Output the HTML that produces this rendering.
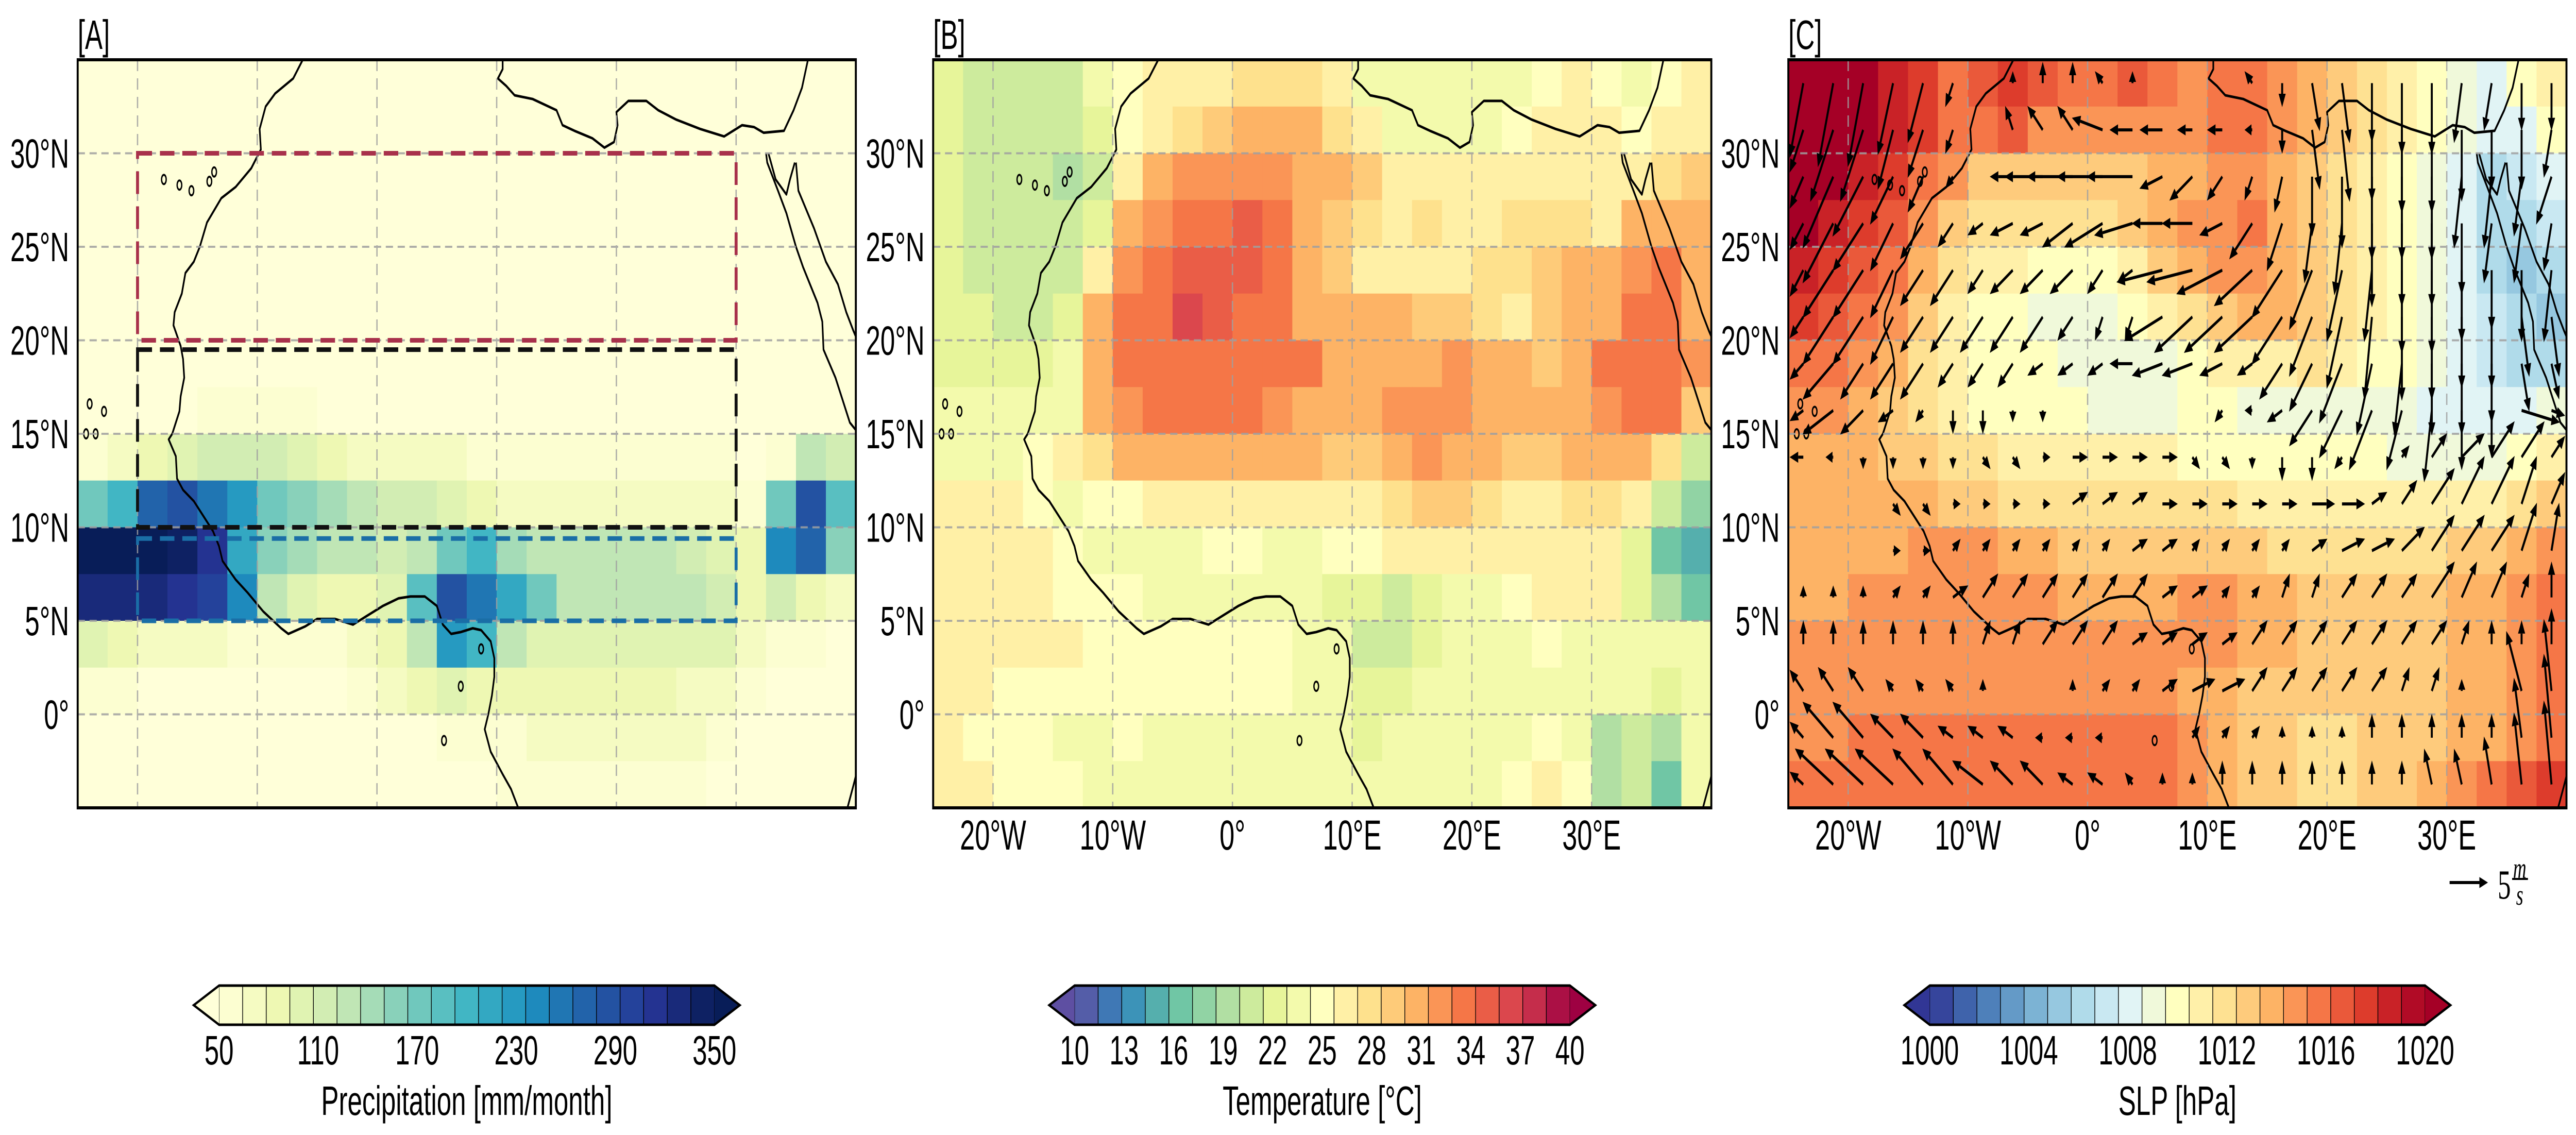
<!DOCTYPE html>
<html><head><meta charset="utf-8"><title>West Africa climatology maps</title>
<style>
html,body{margin:0;padding:0;background:#fff;width:100%;height:100%;overflow:hidden;}
svg{display:block;font-family:"Liberation Sans",sans-serif;position:absolute;left:0;top:0;width:100vw;height:100vh;}
</style></head>
<body>
<svg id="fig" xmlns="http://www.w3.org/2000/svg" viewBox="0 0 7826 2203" preserveAspectRatio="none" overflow="hidden">
<rect x="0" y="0" width="7826" height="2203" fill="#fff"/>
</svg>
<script>
// ---------- data ----------
const lonCells=[-25,-22.5,-20,-17.5,-15,-12.5,-10,-7.5,-5,-2.5,0,2.5,5,7.5,10,12.5,15,17.5,20,22.5,25,27.5,30,32.5,35,37.5];
const latCells=[35,32.5,30,27.5,25,22.5,20,17.5,15,12.5,10,7.5,5,2.5,0,-2.5];
const lonTicks=[-20,-10,0,10,20,30];
const lonTickLabels=["20°W","10°W","0°","10°E","20°E","30°E"];
const latTicks=[30,25,20,15,10,5,0];
const latTickLabels=["30°N","25°N","20°N","15°N","10°N","5°N","0°"];

const z30=[30,30,30,30,30,30,30,30,30,30,30,30,30,30,30,30,30,30,30,30,30,30,30,30,30,30];
const precip=[
z30,z30,z30,z30,z30,z30,z30,
[30,30,30,30,57,57,57,57,30,30,30,30,30,30,30,30,30,30,30,30,30,30,30,30,30,30],
[57,72,86,100,115,115,115,100,86,72,72,72,72,57,57,57,57,57,57,57,57,57,30,57,129,115],
[172,200,272,286,258,229,172,157,143,129,115,115,100,86,72,72,72,72,72,72,72,72,57,172,286,186],
[370,370,370,343,315,215,157,143,129,129,115,129,172,200,143,129,129,129,129,129,115,100,86,243,272,157],
[329,329,329,315,300,243,129,100,86,86,100,186,286,258,215,172,129,129,129,129,129,115,86,115,86,72],
[100,86,72,72,72,57,57,57,57,72,86,129,229,200,129,100,100,100,100,100,100,100,72,57,57,30],
[57,57,30,30,30,30,30,30,30,57,72,86,100,86,86,86,86,86,86,86,72,72,57,30,30,30],
[30,30,30,30,30,30,30,30,30,30,30,30,57,57,57,72,72,72,72,72,72,57,30,30,30,30],
[30,30,30,30,30,30,30,30,30,30,30,30,30,30,57,57,57,57,57,57,57,30,30,30,30,30]
];
const temperature=[
[22,21,20,20,20,23,25,26,26,27,28,28,28,27,24,23,23,23,23,24,25,26,25,24,25,26],
[22,21,20,20,20,22,25,27,28,29,30,30,30,28,26,24,24,24,24,25,26,27,26,25,26,27],
[22,21,20,20,19,21,27,31,32,32,32,32,31,30,29,27,26,27,26,26,27,27,27,26,28,29],
[22,21,20,20,20,22,30,32,33,34,35,34,31,29,28,27,28,27,27,28,28,28,27,30,31,30],
[22,21,21,20,21,27,32,34,35,35,35,34,31,29,27,26,27,27,28,28,29,30,30,32,33,31],
[22,22,21,21,22,30,33,34,36,35,34,34,31,30,30,30,29,29,28,27,29,30,31,33,33,31],
[22,22,22,22,23,31,33,34,34,34,33,33,33,31,30,31,31,32,30,30,29,30,33,34,34,32],
[23,23,23,23,24,31,32,33,33,33,33,32,31,30,30,32,32,32,31,30,30,31,32,33,33,29],
[24,24,24,25,26,28,30,30,30,30,30,30,30,29,29,31,32,31,30,29,29,30,31,31,28,21],
[27,27,26,25,24,25,25,26,26,27,27,27,27,27,27,28,29,29,28,27,27,28,28,26,20,18],
[27,27,27,26,25,24,24,23,24,25,25,24,24,25,25,26,27,26,26,26,26,27,27,22,17,15],
[27,27,27,26,25,25,25,24,24,24,24,24,23,22,22,21,22,23,24,25,26,26,26,22,19,17],
[26,26,26,26,26,25,25,25,25,25,25,25,24,23,21,21,22,23,24,24,25,24,24,24,24,24],
[26,26,25,25,25,25,25,25,25,25,25,25,24,24,22,22,23,23,24,24,24,24,23,23,22,24],
[26,25,25,25,24,24,25,24,23,23,23,23,24,24,22,23,23,24,24,24,25,24,19,21,19,24],
[26,26,25,25,25,24,24,23,23,23,23,23,24,24,23,23,23,24,24,25,26,25,19,21,17,23]
];
const slp=[
[1021,1021,1020,1019,1018,1016,1017,1018,1017,1016,1016,1017,1016,1015,1016,1016,1015,1014,1013,1012,1011,1010,1009,1008,1010,1011],
[1021,1021,1020,1019,1018,1016,1016,1017,1015,1015,1015,1015,1015,1015,1016,1016,1015,1014,1013,1012,1011,1010,1009,1008,1008,1010],
[1021,1020,1019,1018,1016,1015,1013,1013,1013,1013,1013,1013,1014,1014,1015,1015,1014,1013,1012,1011,1010,1009,1008,1006,1007,1008],
[1020,1019,1018,1017,1015,1013,1012,1012,1012,1012,1012,1013,1014,1015,1015,1016,1014,1013,1012,1011,1010,1009,1008,1006,1006,1007],
[1019,1018,1017,1016,1014,1012,1011,1011,1010,1010,1010,1011,1013,1014,1015,1015,1014,1013,1012,1011,1010,1009,1008,1006,1005,1006],
[1018,1017,1016,1015,1013,1011,1010,1010,1009,1009,1009,1010,1011,1012,1013,1014,1014,1013,1012,1011,1010,1009,1008,1007,1006,1005],
[1016,1016,1015,1014,1012,1011,1010,1010,1010,1009,1009,1009,1009,1010,1011,1011,1011,1012,1011,1010,1010,1009,1008,1007,1006,1006],
[1015,1015,1014,1013,1012,1011,1010,1010,1010,1010,1009,1009,1009,1010,1010,1009,1009,1009,1009,1009,1009,1008,1008,1008,1008,1009],
[1014,1014,1014,1013,1013,1012,1012,1011,1011,1011,1011,1011,1011,1010,1010,1010,1010,1010,1010,1010,1009,1009,1009,1009,1010,1011],
[1014,1014,1014,1014,1014,1013,1013,1012,1012,1012,1012,1012,1012,1012,1012,1011,1011,1011,1011,1011,1011,1011,1011,1011,1012,1013],
[1014,1014,1014,1014,1015,1015,1015,1014,1014,1013,1013,1013,1013,1013,1013,1013,1012,1012,1012,1012,1012,1012,1013,1013,1014,1015],
[1014,1014,1015,1015,1015,1015,1015,1015,1015,1014,1014,1014,1014,1015,1015,1014,1014,1013,1013,1013,1013,1013,1014,1014,1015,1016],
[1015,1015,1015,1015,1015,1015,1015,1015,1015,1015,1015,1015,1015,1015,1015,1014,1014,1013,1013,1013,1013,1013,1014,1014,1015,1016],
[1015,1015,1015,1015,1015,1015,1015,1015,1015,1015,1015,1015,1015,1014,1014,1013,1013,1013,1013,1013,1013,1013,1014,1014,1015,1016],
[1015,1015,1016,1016,1016,1016,1016,1016,1016,1016,1016,1016,1016,1015,1014,1013,1013,1012,1012,1013,1013,1013,1014,1014,1015,1016],
[1016,1016,1016,1016,1016,1016,1016,1016,1016,1016,1016,1016,1016,1015,1014,1013,1013,1012,1012,1013,1013,1014,1015,1016,1017,1018]
];
const windU=[
[-2,-2,-2,-2,-2,-1,0,0,0,0,-1,0,0,0,0,-1,0,1,1,0,0,0,-1,-1,0,0],
[-3,-3,-3,-2,-2,-1,0,-1,-2,-2,-4,-3,-3,-2,-2,-1,0,1,1,0,0,0,0,0,0,-1],
[-4,-4,-4,-3,-2,-1,0,-3,-5,-6,-6,-6,-3,-3,-2,-1,-1,0,0,0,0,0,-1,-1,-1,-2],
[-4,-4,-4,-3,-3,-2,-2,-3,-3,-4,-5,-5,-4,-4,-3,-3,-2,-1,-1,0,0,0,0,-1,-1,-1],
[-4,-4,-4,-3,-3,-3,-2,-3,-3,-3,-2,-2,-6,-6,-6,-5,-4,-3,-2,-1,0,0,0,0,0,-1],
[-4,-4,-4,-3,-3,-3,-3,-3,-3,-2,-1,-1,-5,-5,-5,-5,-4,-3,-2,-1,0,0,0,0,1,1],
[-4,-4,-3,-3,-3,-2,-2,-2,-2,-2,-2,-3,-4,-4,-3,-2,-3,-3,-3,-2,-1,0,0,0,1,1],
[-4,-4,-3,-2,-1,0,0,0,0,0,0,0,0,0,-1,-1,-2,-3,-3,-3,-2,-1,0,0,5,4],
[-2,-1,0,0,0,0,1,1,1,2,2,2,2,1,1,0,0,0,-1,0,1,2,3,3,3,3],
[0,0,0,1,1,1,1,1,1,2,2,2,2,2,2,2,2,3,3,2,2,3,3,3,2,2],
[0,0,0,1,1,1,1,1,1,1,1,2,2,1,1,1,1,2,3,3,3,3,3,3,2,1],
[0,0,0,1,1,2,2,2,2,2,2,2,2,2,1,1,1,1,2,2,2,3,2,2,1,0],
[0,0,0,0,0,0,1,1,2,2,2,2,2,2,2,2,2,2,2,2,2,2,1,0,0,0],
[-2,-2,-2,-1,-1,-1,0,0,0,0,1,1,2,3,3,2,2,2,2,2,1,1,0,0,-2,-1],
[-4,-4,-4,-3,-3,-2,-2,-2,-1,-1,-1,0,0,1,1,1,0,0,0,0,0,0,0,0,-1,-1],
[-5,-5,-5,-5,-4,-4,-4,-3,-3,-2,-2,-1,0,0,0,0,0,0,0,0,0,-1,-1,-1,-1,-1]
];
const windV=[
[-7,-7,-7,-6,-5,-2,0,1,2,2,1,1,0,0,0,1,-2,-4,-5,-5,-6,-6,-5,-4,-4,-4],
[-6,-6,-6,-5,-4,-2,0,2,2,2,1,0,0,0,0,0,-2,-5,-6,-6,-7,-7,-6,-5,-5,-4],
[-6,-6,-5,-4,-3,-1,0,0,0,0,0,0,-1,-2,-2,-2,-3,-5,-6,-7,-7,-7,-6,-6,-5,-4],
[-5,-5,-4,-4,-3,-2,-1,-1,-1,-2,-2,-1,0,0,-1,-3,-4,-5,-6,-7,-7,-7,-6,-5,-5,-4],
[-5,-4,-4,-4,-3,-3,-2,-2,-2,-2,-2,-1,-1,-1,-2,-3,-4,-5,-6,-6,-7,-7,-6,-5,-6,-6],
[-4,-4,-4,-4,-3,-3,-3,-3,-3,-2,-2,-2,-2,-3,-3,-3,-4,-5,-6,-7,-7,-7,-6,-6,-5,-5],
[-3,-3,-3,-3,-3,-2,-2,-2,-1,-1,-1,0,-1,-1,-1,-1,-3,-4,-5,-6,-6,-6,-6,-5,-4,-3],
[-2,-2,-2,-1,-1,-2,-2,-1,-1,0,0,0,0,0,-1,0,-1,-3,-4,-5,-5,-6,-5,-4,-1,-1],
[0,0,-1,-1,-1,-1,-1,-1,0,0,0,0,0,-1,-1,-1,-2,-2,-1,0,1,2,2,3,3,3],
[0,0,0,-1,-1,0,0,0,0,1,1,1,0,0,0,0,0,0,0,1,2,3,4,4,4,3],
[0,0,0,0,0,1,1,1,1,1,1,1,1,1,1,1,1,1,1,1,2,3,3,3,4,4],
[1,1,1,1,1,1,2,2,2,2,2,2,1,1,1,1,2,2,2,2,2,3,3,3,2,3],
[2,2,2,2,2,2,2,2,2,2,2,1,1,1,1,2,2,2,2,2,2,2,2,2,2,3],
[2,2,2,1,1,1,1,0,0,1,1,1,1,1,1,2,2,2,2,2,2,2,1,0,5,6],
[3,3,3,2,2,1,1,1,0,0,0,0,0,1,1,1,1,1,1,2,2,2,2,2,5,7],
[3,3,3,3,3,3,2,2,2,1,1,1,1,1,2,2,2,2,2,2,2,3,3,4,6,7]
];
const precipTicks=[50,110,170,230,290,350];
const tempTicks=[10,13,16,19,22,25,28,31,34,37,40];
const slpTicks=[1000,1004,1008,1012,1016,1020];
const keySpeed=5;

// geography (coastlines)
const coastWest=[[-6.2,35],[-7,34],[-8.5,33.2],[-9.3,32.5],[-9.8,31.3],[-9.7,30.2],[-10.5,29.2],[-11.8,28.2],[-13,27.6],[-14.2,26.3],[-14.8,25],[-15.3,24.2],[-16,23.6],[-16.3,22.5],[-16.9,21.5],[-17,20.8],[-16.4,19.7],[-16.2,19],[-16.1,18],[-16.4,17],[-16.5,16.2],[-17.1,15],[-17.4,14.7],[-16.8,13.8],[-16.7,12.6],[-16.2,12],[-15.3,11.4],[-14.5,10.6],[-13.7,9.8],[-13.2,9],[-12.9,8.2],[-11.8,7.2],[-10.8,6.5],[-9.5,5.5],[-8,4.6],[-7.4,4.3],[-6,4.7],[-5,5.1],[-3.5,5.1],[-2,4.8],[-1,5.2],[0.5,5.8],[1.8,6.2],[2.8,6.3],[4,6.3],[5,5.8],[5.5,4.8],[6.2,4.3],[7,4.4],[8,4.6],[8.7,4.5],[9.5,3.9],[9.8,3],[9.8,2],[9.6,1],[9.3,0],[9,-0.8],[9.5,-2],[10.5,-3.2],[11.2,-4],[11.8,-5]];
const coastNorth=[[10.5,35],[10.5,34.5],[10.1,34],[10.8,33.6],[11.5,33.1],[13,32.9],[15,32.3],[15.5,31.5],[16.5,31.2],[18,30.8],[19,30.3],[19.8,30.6],[20.1,31.5],[20,32.2],[21,32.8],[22.5,32.8],[23.5,32.3],[25,31.8],[27,31.3],[29,30.9],[30.5,31.5],[31.5,31.4],[32.3,31.1],[34,31.2],[34.8,32.3],[35.5,33.5],[36,35]];
const coastRedSea=[[32.5,30],[32.6,29.5],[33.5,28],[34.2,26.8],[35,25],[35.6,23.9],[36.8,22],[37.2,21],[37.3,19.5],[38.3,18],[38.8,17],[39.5,15.6],[40,15.2]];
const coastSinai=[[32.7,30],[33.3,28.6],[34.2,27.8],[34.5,28.6],[34.9,29.5]];
const coastArabia=[[35,29.5],[35.2,28],[36.5,26],[37.5,24.2],[38.5,23],[39.2,21.5],[39.8,20.5],[40,20.2]];
const coastEast=[[39.3,-5],[39.8,-3.8],[40,-3.3]];
const islands=[[-16.5,28.3],[-15.5,28],[-14,28.5],[-17.8,28.6],[-13.6,29],[-24,16.6],[-23.5,15],[-24.3,15],[-22.8,16.2],[8.7,3.5],[7,1.5],[5.6,-1.4]];

// ---------- drawing ----------
const NS='http://www.w3.org/2000/svg';
const svg=document.getElementById('fig');
function el(tag,attrs,parent){const e=document.createElementNS(NS,tag);for(const k in attrs)e.setAttribute(k,attrs[k]);(parent||svg).appendChild(e);return e;}
const PX=36.37, PY=36.3, TOP=116, W=65*PX, H=40*PY;
const panelX=[236,2835,5433];
function xs(ox,lon){return ox+(lon+25)*PX;}
function ys(lat){return TOP+(35-lat)*PY;}

function hex2rgb(h){return [parseInt(h.substr(1,2),16),parseInt(h.substr(3,2),16),parseInt(h.substr(5,2),16)];}
function interpCmap(stops,t){t=Math.max(0,Math.min(1,t));const n=stops.length-1;const f=t*n;const i=Math.min(n-1,Math.floor(f));const r=f-i;const a=hex2rgb(stops[i]),b=hex2rgb(stops[i+1]);return 'rgb('+a.map((v,k)=>Math.round(v+(b[k]-v)*r)).join(',')+')';}
const spectralR=["#5e4fa2","#3288bd","#66c2a5","#abdda4","#e6f598","#ffffbf","#fee08b","#fdae61","#f46d43","#d53e4f","#9e0142"];
const rdylbuR=["#313695","#4575b4","#74add1","#abd9e9","#e0f3f8","#ffffbf","#fee090","#fdae61","#f46d43","#d73027","#a50026"];
const ylgnbu=["#ffffd9","#edf8b1","#c7e9b4","#7fcdbb","#41b6c4","#1d91c0","#225ea8","#253494","#081d58"];
const NB=21;
function makeColors(stops){const c=[interpCmap(stops,0)];for(let i=0;i<NB;i++)c.push(interpCmap(stops,(i+0.5)/NB));c.push(interpCmap(stops,1));return c;}
const precipColors=makeColors(ylgnbu), tempColors=makeColors(spectralR), slpColors=makeColors(rdylbuR);
function colorOf(v,vmin,vmax,cols){if(v<vmin)return cols[0];if(v>=vmax)return cols[NB+1];return cols[1+Math.min(NB-1,Math.floor((v-vmin)/(vmax-vmin)*NB))];}

function drawPanel(idx,field,vmin,vmax,cols,letter,lonLabels){
  const ox=panelX[idx];
  const g=el('g',{});
  
  
  const cp=el('clipPath',{id:'clip'+idx},g);
  el('rect',{x:ox,y:TOP,width:W,height:H},cp);
  const cells=el('g',{'clip-path':'url(#clip'+idx+')'},g);
  
  
  for(let i=0;i<latCells.length;i++)for(let j=0;j<lonCells.length;j++){
    const x0=xs(ox,lonCells[j]),y0=ys(latCells[i]);
    const wcell=(j===lonCells.length-1)?2.5*PX:2.5*PX+0.8;
    const r=el('rect',{x:x0.toFixed(1),y:y0.toFixed(1),width:wcell.toFixed(1),height:(2.5*PY+0.8).toFixed(1),fill:colorOf(field[i][j],vmin,vmax,cols)},cells);
    
    
  }
  const cg=el('g',{'clip-path':'url(#clip'+idx+')',fill:'none',stroke:'#000','stroke-width':5,'stroke-linejoin':'round'},g);
  
  
  [coastWest,coastNorth,coastRedSea,coastSinai,coastArabia,coastEast].forEach(c=>{
    el('polyline',{points:c.map(p=>xs(ox,p[0]).toFixed(1)+','+ys(p[1]).toFixed(1)).join(' ')},cg);
  });
  islands.forEach(p=>el('ellipse',{cx:xs(ox,p[0]),cy:ys(p[1]),rx:7,ry:9,'stroke-width':4},cg));
  const gg=el('g',{stroke:'#a0a0a0','stroke-width':4,'stroke-dasharray':'22,14',opacity:0.85},g);
  
  
  lonTicks.forEach(l=>el('line',{x1:xs(ox,l),x2:xs(ox,l),y1:TOP,y2:TOP+H},gg));
  latTicks.forEach(l=>el('line',{x1:ox,x2:ox+W,y1:ys(l),y2:ys(l)},gg));
  latTicks.forEach((l,k)=>{
    const t=el('text',{x:ox-26,y:ys(l)+28,'font-size':80,'text-anchor':'end',fill:'#000'},g);
    t.textContent=latTickLabels[k];
    
    
  });
  if(lonLabels){
    lonTicks.forEach((l,k)=>{
      const t=el('text',{x:xs(ox,l),y:1649,'font-size':82,'text-anchor':'middle',fill:'#000'},g);
      t.textContent=lonTickLabels[k];
      
      
    });
  }
  const tl=el('text',{x:ox,y:95,'font-size':80,fill:'#000'},g);
  tl.textContent='['+letter+']';
  
  
  return g;
}
function drawFrame(idx){
  const f=el('rect',{x:panelX[idx],y:TOP,width:W,height:H,fill:'none',stroke:'#000','stroke-width':6});
  
  
}

function drawColorbar(idx,cols,vmin,vmax,ticks,title,name){
  const cx=panelX[idx]+W/2, rw=1505, x0=cx-rw/2, x1=cx+rw/2, y0=1913, y1=1989, tip=77;
  const g=el('g',{});
  
  
  const bw=rw/NB;
  for(let i=0;i<NB;i++){
    const r=el('rect',{x:(x0+i*bw).toFixed(1),y:y0,width:bw.toFixed(1),height:y1-y0,fill:cols[i+1],stroke:'#000','stroke-width':2},g);
    
    
  }
  el('polygon',{points:`${x0},${y0} ${x0-tip},${(y0+y1)/2} ${x0},${y1}`,fill:cols[0]},g);
  el('polygon',{points:`${x1},${y0} ${x1+tip},${(y0+y1)/2} ${x1},${y1}`,fill:cols[NB+1]},g);
  el('polygon',{points:`${x0},${y0} ${x1},${y0} ${x1+tip},${(y0+y1)/2} ${x1},${y1} ${x0},${y1} ${x0-tip},${(y0+y1)/2}`,fill:'none',stroke:'#000','stroke-width':5},g);
  ticks.forEach(v=>{
    const t=el('text',{x:(x0+(v-vmin)/(vmax-vmin)*rw).toFixed(1),y:2066,'font-size':80,'text-anchor':'middle',fill:'#000'},g);
    t.textContent=v;
    
    
  });
  const tt=el('text',{x:cx,y:2164,'font-size':80,'text-anchor':'middle',fill:'#000'},g);
  tt.textContent=title;
  
  
}

drawPanel(0,precip,50,350,precipColors,'A',false);
const boxes=[[-20,20,30,30,'#a8314b','red-region-box'],[-20,10,30,19.5,'#111111','black-region-box'],[-20,5,30,9.4,'#1a6ea6','blue-region-box']];
boxes.forEach(b=>{
  const r=el('rect',{x:xs(236,b[0]),y:ys(b[3]),width:(b[2]-b[0])*PX,height:(b[3]-b[1])*PY,fill:'none',stroke:b[4],'stroke-width':9,'stroke-dasharray':'44,24'});
  
  
});
drawFrame(0);
drawPanel(1,temperature,10,40,tempColors,'B',true);
drawFrame(1);
drawPanel(2,slp,1000,1020,slpColors,'C',true);
const SC=23.3;
const qg=el('g',{'clip-path':'url(#clip2)'});


const CX0=5433+4, CX1=5433+W-4, CY0=TOP+4, CY1=TOP+H-4;
function arrow(parent,x,y,dx,dy,clamp){
  if(clamp){
    let f=1;
    if(x+dx>CX1)f=Math.min(f,(CX1-x)/dx);
    if(x+dx<CX0)f=Math.min(f,(CX0-x)/dx);
    if(y+dy>CY1)f=Math.min(f,(CY1-y)/dy);
    if(y+dy<CY0)f=Math.min(f,(CY0-y)/dy);
    dx*=f;dy*=f;
  }
  const L=Math.hypot(dx,dy); if(L<1)return null;
  const ux=dx/L,uy=dy/L, hl=Math.min(26,L*0.9), hw=9;
  const bx=x+dx-ux*hl, by=y+dy-uy*hl;
  const g=el('g',{},parent);
  el('line',{x1:x.toFixed(1),y1:y.toFixed(1),x2:bx.toFixed(1),y2:by.toFixed(1),stroke:'#000','stroke-width':6},g);
  el('polygon',{points:`${(x+dx).toFixed(1)},${(y+dy).toFixed(1)} ${(bx-uy*hw*1.2).toFixed(1)},${(by+ux*hw*1.2).toFixed(1)} ${(bx+uy*hw*1.2).toFixed(1)},${(by-ux*hw*1.2).toFixed(1)}`,fill:'#000'},g);
  return g;
}
for(let i=0;i<latCells.length;i++)for(let j=0;j<lonCells.length;j++){
  const x=xs(5433,lonCells[j]+1.25), y=ys(latCells[i]-1.25);
  const a=arrow(qg,x,y,windU[i][j]*SC,-windV[i][j]*SC,true);
  if(a){
    
    
  }
}
drawFrame(2);
const kg=el('g',{});


arrow(kg,7442,1713,keySpeed*SC,0,false);
const k5=el('text',{x:7588,y:1744,'font-size':80,'font-family':'Liberation Serif, serif',fill:'#000'},kg);
k5.textContent=String(keySpeed);
const km=el('text',{x:7655,y:1704,'font-size':56,'font-style':'italic','font-family':'Liberation Serif, serif','text-anchor':'middle',fill:'#000'},kg);
km.textContent='m';
el('line',{x1:7632,x2:7680,y1:1706,y2:1706,stroke:'#000','stroke-width':4},kg);
const ks=el('text',{x:7655,y:1756,'font-size':56,'font-style':'italic','font-family':'Liberation Serif, serif','text-anchor':'middle',fill:'#000'},kg);
ks.textContent='s';

drawColorbar(0,precipColors,50,350,precipTicks,'Precipitation [mm/month]','precip-colorbar');
drawColorbar(1,tempColors,10,40,tempTicks,'Temperature [°C]','temperature-colorbar');
drawColorbar(2,slpColors,1000,1020,slpTicks,'SLP [hPa]','slp-colorbar');
</script>
</body></html>
